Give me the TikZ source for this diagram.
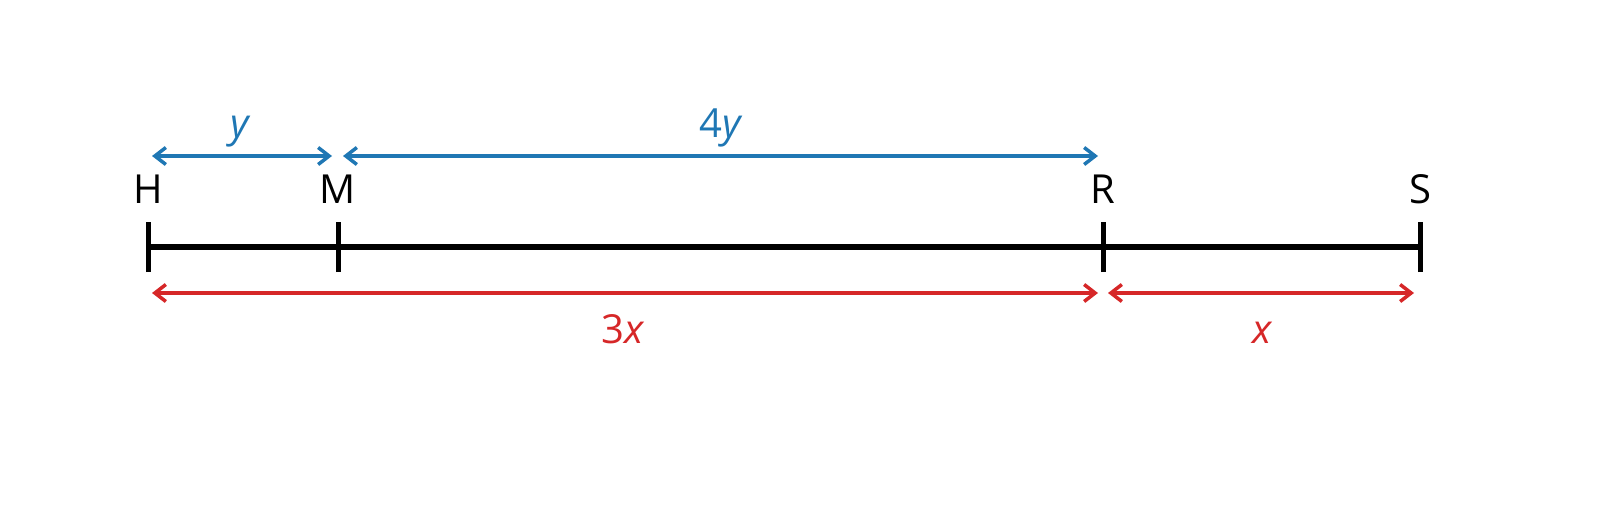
\documentclass[tikz,border=0pt]{standalone}
\usepackage{fontspec}
\setmainfont{Open Sans}
\usetikzlibrary{arrows.meta}
\definecolor{myblue}{HTML}{1F77B4}
\definecolor{myred}{HTML}{D62728}
\tikzset{
  lbl/.style={font=\fontsize{40}{44}\selectfont, inner sep=0pt, anchor=base},
  mainline/.style={line width=5.5pt, black},
  tickmark/.style={line width=5pt, black},
  dim/.style={line width=3.5pt, {Straight Barb[length=11pt,width=17pt,line width=3.5pt]}-{Straight Barb[length=11pt,width=17pt,line width=3.5pt]}},
}
\begin{document}
\begin{tikzpicture}[x=1pt,y=-1pt]
\useasboundingbox (0,0) rectangle (1600,505);
% points on the line
\coordinate (H) at (148,247);
\coordinate (M) at (338,247);
\coordinate (R) at (1103,247);
\coordinate (S) at (1420,247);
\draw[mainline] (H) -- (S);
\foreach \p in {H,M,R,S}{
  \draw[tickmark] ([yshift=-25pt]\p) -- ([yshift=25pt]\p);
}
% point labels
\node[lbl] (lH) at (148,204) {H};
\node[lbl] (lM) at (338,204) {M};
\node[lbl] (lR) at (1103,204) {R};
\node[lbl] (lS) at (1420,204) {S};
% blue arrows
\coordinate (b1a) at (152,156);
\coordinate (b1b) at (332,156);
\coordinate (b2a) at (343,156);
\coordinate (b2b) at (1098,156);
\draw[dim, myblue] (b1a) -- (b1b);
\draw[dim, myblue] (b2a) -- (b2b);
\node[lbl, myblue] (ly) at (240,138) {\itshape y};
\node[lbl, myblue] (l4y) at (720,138) {4\itshape y};
% red arrows
\coordinate (r1a) at (152,293);
\coordinate (r1b) at (1098,293);
\coordinate (r2a) at (1108,293);
\coordinate (r2b) at (1414,293);
\draw[dim, myred] (r1a) -- (r1b);
\draw[dim, myred] (r2a) -- (r2b);
\node[lbl, myred] (l3x) at (623,343) {3\itshape x};
\node[lbl, myred] (lx) at (1262,343) {\itshape x};
\end{tikzpicture}
\end{document}
